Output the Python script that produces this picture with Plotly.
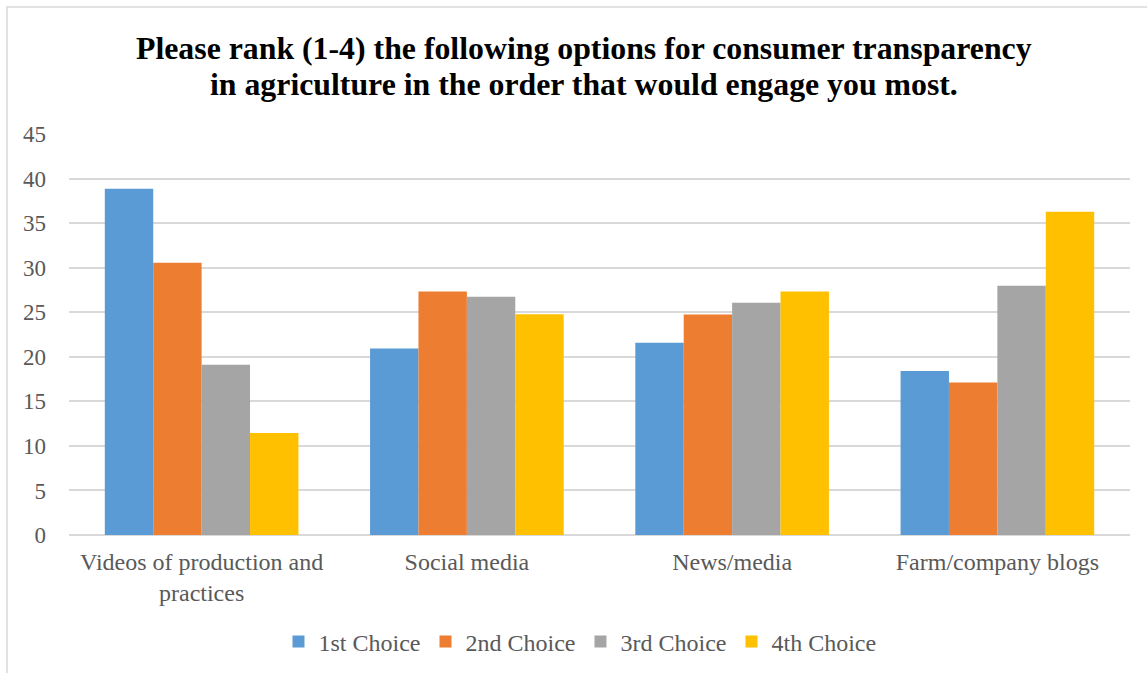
import plotly.graph_objects as go

# Survey options and the share of respondents giving each rank
categories = ["Videos of production and<br>practices", "Social media", "News/media", "Farm/company blogs"]
series_names = ["1st Choice", "2nd Choice", "3rd Choice", "4th Choice"]
first_choice = [38.86, 20.94, 21.57, 18.40]
second_choice = [30.56, 27.33, 24.74, 17.12]
third_choice = [19.11, 26.74, 26.05, 27.96]
fourth_choice = [11.45, 24.77, 27.32, 36.28]
y_ticks = [0, 5, 10, 15, 20, 25, 30, 35, 40, 45]
title_lines = [
    "Please rank (1-4) the following options for consumer transparency",
    "in agriculture in the order that would engage you most.",
]

colors = ["#5B9BD5", "#ED7D31", "#A5A5A5", "#FFC000"]
values = [first_choice, second_choice, third_choice, fourth_choice]

FONT = "Liberation Serif, Times New Roman, serif"
GRAY = "#595959"

# plot area in pixels (used to place the title lines and frame in paper units)
PLOT_LEFT, PLOT_RIGHT, PLOT_TOP, PLOT_BOTTOM = 69, 1130, 134, 535
PLOT_H = PLOT_BOTTOM - PLOT_TOP
PLOT_W = PLOT_RIGHT - PLOT_LEFT


def py(pixel_y):
    return (PLOT_BOTTOM - pixel_y) / PLOT_H


def px(pixel_x):
    return (pixel_x - PLOT_LEFT) / PLOT_W


fig = go.Figure()
for name, vals, col in zip(series_names, values, colors):
    fig.add_trace(go.Bar(
        x=categories, y=vals, name=name,
        marker=dict(color=col, line=dict(width=0)),
    ))

title_annotations = [
    dict(
        text=f"<b>{line}</b>", xref="paper", yref="paper",
        x=px(584), y=py(yc), xanchor="center", yanchor="middle",
        showarrow=False,
        font=dict(family=FONT, size=31.8, color="black"),
    )
    for line, yc in zip(title_lines, [48, 84])
]

fig.update_layout(
    width=1147, height=673,
    autosize=False,
    barmode="group",
    bargap=0.27,
    bargroupgap=0,
    paper_bgcolor="white",
    plot_bgcolor="white",
    margin=dict(l=PLOT_LEFT, r=1147 - PLOT_RIGHT, t=PLOT_TOP, b=673 - PLOT_BOTTOM,
                autoexpand=False),
    font=dict(family=FONT, size=24, color=GRAY),
    annotations=title_annotations,
    legend=dict(
        orientation="h",
        x=px(580), xanchor="center",
        y=py(642), yanchor="middle",
        font=dict(family=FONT, size=24, color=GRAY),
        itemwidth=30,
        traceorder="normal",
    ),
    xaxis=dict(
        showgrid=False,
        showline=False,
        zeroline=False,
        ticks="",
        automargin=False,
        tickfont=dict(family=FONT, size=24, color=GRAY),
        ticklabelstandoff=10,
    ),
    yaxis=dict(
        range=[0, 45],
        tickvals=y_ticks,
        showgrid=True,
        gridcolor="#D9D9D9",
        gridwidth=1.5,
        zeroline=True,
        zerolinecolor="#D9D9D9",
        zerolinewidth=2,
        showline=False,
        ticks="",
        automargin=False,
        tickfont=dict(family=FONT, size=23, color=GRAY),
        ticklabelstandoff=22,
    ),
    shapes=[
        dict(
            type="rect", xref="paper", yref="paper",
            x0=px(7), x1=1.2,
            y0=-1.0, y1=py(7),
            line=dict(color="#D9D9D9", width=1.5),
            fillcolor="rgba(0,0,0,0)",
            layer="below",
        )
    ],
)

fig.write_html("out.html")
